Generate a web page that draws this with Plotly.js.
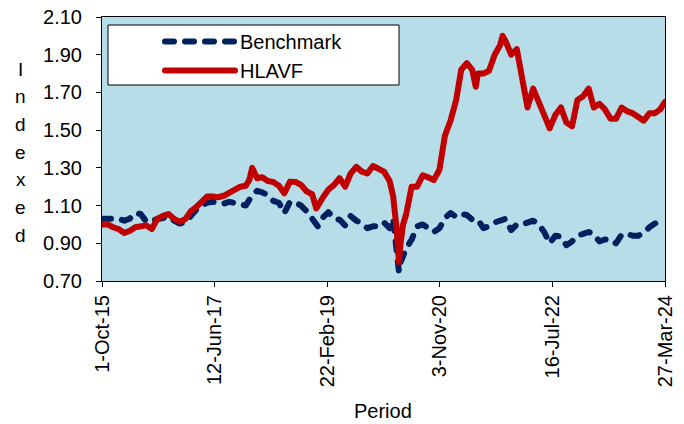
<!DOCTYPE html>
<html>
<head>
<meta charset="utf-8">
<script src="https://cdn.plot.ly/plotly-3.0.1.min.js"></script>
<style>
  html, body { margin: 0; padding: 0; background: #ffffff; }
  #chart { width: 684px; height: 424px; }
  .js-line { stroke-linecap: round; stroke-linejoin: round; }
</style>
</head>
<body>
<div id="chart"></div>
<script>
// ---- Data ----
var benchmarkDates = [
  '2015-10-01','2015-11-01','2015-12-01','2016-01-01','2016-02-01','2016-03-01','2016-04-01','2016-05-01','2016-06-01','2016-07-01','2016-08-01','2016-09-01',
  '2016-10-01','2016-11-01','2016-12-01','2017-01-01','2017-02-01','2017-03-01','2017-04-01','2017-05-01','2017-06-01','2017-07-01','2017-08-01','2017-09-01',
  '2017-10-01','2017-11-01','2017-12-01','2018-01-01','2018-02-01','2018-03-01','2018-04-01','2018-05-01','2018-06-01','2018-07-01','2018-08-01','2018-09-01',
  '2018-10-01','2018-11-01','2018-12-01','2019-01-01','2019-02-01','2019-03-01','2019-04-01','2019-05-01','2019-06-01','2019-07-01','2019-08-01','2019-09-01',
  '2019-10-01','2019-11-01','2019-12-01','2020-01-01','2020-02-01','2020-02-20','2020-03-23','2020-04-01','2020-05-01','2020-06-01','2020-07-01','2020-08-01','2020-09-01',
  '2020-10-01','2020-11-01','2020-12-01','2021-01-01','2021-02-01','2021-03-01','2021-04-01','2021-05-01','2021-06-01','2021-07-01','2021-08-01','2021-09-01',
  '2021-10-01','2021-11-01','2021-12-01','2022-01-01','2022-02-01','2022-03-01','2022-04-01','2022-05-01','2022-06-01','2022-07-01','2022-08-01','2022-09-01',
  '2022-10-01','2022-11-01','2022-12-01','2023-01-01','2023-02-01','2023-03-01','2023-04-01','2023-05-01','2023-06-01','2023-07-01','2023-08-01','2023-09-01',
  '2023-10-01','2023-11-01','2023-12-01','2024-01-01','2024-02-01','2024-03-01','2024-03-27'
];
var benchmarkValues = [
  1.03,1.03,1.025,1.03,1.02,1.03,1.06,1.055,1.015,1.02,1.03,1.035,
  1.04,1.02,1.005,1.01,1.05,1.076,1.10,1.115,1.12,1.115,1.11,1.12,
  1.115,1.11,1.10,1.15,1.178,1.17,1.155,1.125,1.115,1.06,1.12,1.115,
  1.10,1.07,1.03,0.99,1.04,1.065,1.03,1.025,0.995,1.045,1.02,1.005,
  0.98,0.99,0.99,1.01,0.98,1.03,0.75,0.80,0.87,0.92,0.99,1.00,0.98,
  0.96,0.98,1.035,1.06,1.04,1.055,1.05,1.025,1.025,0.98,0.99,1.01,
  1.02,1.03,0.97,1.00,1.00,1.01,1.02,1.00,0.96,0.90,0.94,0.935,
  0.89,0.91,0.94,0.95,0.96,0.945,0.91,0.92,0.92,0.90,0.945,0.95,
  0.94,0.94,0.955,0.985,1.005,1.023,1.026
];
var hlavfDates = [
  '2015-10-01','2015-11-01','2015-12-01','2016-01-01','2016-02-01','2016-03-01','2016-04-01','2016-05-01','2016-06-01','2016-07-01','2016-08-01','2016-09-01',
  '2016-10-01','2016-11-01','2016-12-01','2017-01-01','2017-02-01','2017-03-01','2017-04-01','2017-05-01','2017-06-01','2017-07-01','2017-08-01','2017-09-01',
  '2017-10-01','2017-11-01','2017-12-01','2017-12-20','2018-01-05','2018-02-01','2018-03-01','2018-04-01','2018-05-01','2018-06-01','2018-07-01','2018-08-01','2018-09-01',
  '2018-10-01','2018-11-01','2018-12-01','2018-12-24','2019-01-01','2019-02-01','2019-03-01','2019-04-01','2019-05-01','2019-06-01','2019-07-01','2019-08-01','2019-09-01',
  '2019-10-01','2019-11-01','2019-12-01','2020-01-01','2020-02-01','2020-02-20','2020-03-10','2020-03-23','2020-04-01','2020-04-15','2020-05-01','2020-06-01','2020-07-01','2020-08-01','2020-09-01',
  '2020-10-01','2020-11-01','2020-12-01','2021-01-01','2021-02-01','2021-03-01','2021-04-01','2021-05-01','2021-05-20','2021-06-01','2021-07-01','2021-08-01','2021-09-01',
  '2021-10-01','2021-10-15','2021-11-01','2021-12-01','2022-01-01','2022-02-01','2022-03-01','2022-04-01','2022-05-01','2022-06-01','2022-07-01','2022-08-01','2022-09-01',
  '2022-10-01','2022-11-01','2022-12-01','2023-01-01','2023-02-01','2023-03-01','2023-04-01','2023-05-01','2023-06-01','2023-07-01','2023-08-01','2023-09-01',
  '2023-10-01','2023-11-01','2023-12-01','2024-01-01','2024-02-01','2024-03-01','2024-03-27'
];
var hlavfValues = [
  1.00,1.00,0.985,0.975,0.955,0.965,0.985,0.988,0.995,0.975,1.03,1.045,
  1.055,1.03,1.014,1.027,1.07,1.09,1.12,1.148,1.148,1.144,1.152,1.17,
  1.182,1.20,1.205,1.236,1.30,1.245,1.25,1.23,1.225,1.205,1.165,1.227,1.225,
  1.21,1.175,1.16,1.085,1.10,1.147,1.185,1.21,1.245,1.20,1.27,1.305,1.28,
  1.27,1.31,1.298,1.28,1.23,1.15,0.98,0.80,0.90,1.00,1.05,1.20,1.20,1.26,1.25,
  1.235,1.29,1.47,1.55,1.66,1.82,1.855,1.82,1.73,1.80,1.80,1.815,1.90,
  1.95,2.00,1.97,1.90,1.93,1.78,1.62,1.72,1.64,1.58,1.51,1.58,1.62,
  1.54,1.52,1.66,1.68,1.72,1.62,1.64,1.61,1.56,1.56,1.62,1.60,
  1.59,1.57,1.55,1.59,1.59,1.61,1.65
];
var seriesNames = ['Benchmark', 'HLAVF'];
var xTickDates = ['2015-10-01','2017-06-12','2019-02-22','2020-11-03','2022-07-16','2024-03-27'];
var xTickLabels = ['1-Oct-15','12-Jun-17','22-Feb-19','3-Nov-20','16-Jul-22','27-Mar-24'];
var yTickValues = [0.70, 0.90, 1.10, 1.30, 1.50, 1.70, 1.90, 2.10];
var xTitle = 'Period';
var yTitle = 'Indexed';

// ---- Styling ----
var FONT = '"Liberation Sans", Arial, sans-serif';

var traces = [
  {
    x: benchmarkDates, y: benchmarkValues, name: seriesNames[0],
    type: 'scatter', mode: 'lines',
    line: { color: '#002060', width: 6, dash: '9px,11px' }
  },
  {
    x: hlavfDates, y: hlavfValues, name: seriesNames[1],
    type: 'scatter', mode: 'lines',
    line: { color: '#c00000', width: 6 }
  }
];

// geometry helpers (plot area in px)
var L = 102, R = 665, T = 17, B = 281;
function px2paperX(px) { return (px - L) / (R - L); }
function px2paperY(py) { return (B - py) / (B - T); }

var annotations = [];
var letters = yTitle.split('');
for (var i = 0; i < letters.length; i++) {
  annotations.push({
    text: letters[i], xref: 'paper', yref: 'paper',
    x: px2paperX(20.5), y: px2paperY(69 + 27.7 * i),
    xanchor: 'center', yanchor: 'middle', showarrow: false,
    font: { family: FONT, size: 19, color: '#000' }
  });
}
annotations.push({
  text: xTitle, xref: 'paper', yref: 'paper',
  x: px2paperX(383), y: px2paperY(411),
  xanchor: 'center', yanchor: 'middle', showarrow: false,
  font: { family: FONT, size: 20, color: '#000' }
});

var layout = {
  width: 684, height: 424,
  margin: { l: L, r: 684 - R, t: T, b: 424 - B, pad: 0 },
  paper_bgcolor: '#ffffff',
  plot_bgcolor: '#b7dee8',
  font: { family: FONT, size: 20, color: '#000' },
  showlegend: true,
  legend: {
    x: px2paperX(160), y: px2paperY(22), xanchor: 'left', yanchor: 'top',
    bgcolor: 'rgba(0,0,0,0)', borderwidth: 0,
    itemwidth: 70, tracegroupgap: 0,
    font: { family: FONT, size: 20, color: '#000' }
  },
  xaxis: {
    type: 'date',
    range: ['2015-10-01', '2024-03-27'],
    tickmode: 'array', tickvals: xTickDates, ticktext: xTickLabels,
    tickangle: -90,
    ticks: 'outside', ticklen: 5, tickwidth: 1, tickcolor: '#000',
    showline: true, linecolor: '#000', linewidth: 1, mirror: true,
    showgrid: false, zeroline: false,
    tickfont: { family: FONT, size: 20, color: '#000' },
    fixedrange: true
  },
  yaxis: {
    range: [0.70, 2.10],
    tickmode: 'array', tickvals: yTickValues,
    ticktext: yTickValues.map(function (v) { return v.toFixed(2); }),
    ticks: 'outside', ticklen: 5, tickwidth: 1, tickcolor: '#000',
    showline: true, linecolor: '#000', linewidth: 1, mirror: true,
    showgrid: false, zeroline: false,
    ticklabelstandoff: 10,
    tickfont: { family: FONT, size: 20, color: '#000' },
    fixedrange: true
  },
  shapes: [{
    type: 'rect', xref: 'paper', yref: 'paper', layer: 'above',
    x0: px2paperX(108), x1: px2paperX(399),
    y0: px2paperY(85), y1: px2paperY(25),
    fillcolor: '#ffffff', line: { color: '#000', width: 1 }
  }],
  annotations: annotations
};

Plotly.newPlot('chart', traces, layout, { staticPlot: true, displayModeBar: false });
</script>
</body>
</html>
